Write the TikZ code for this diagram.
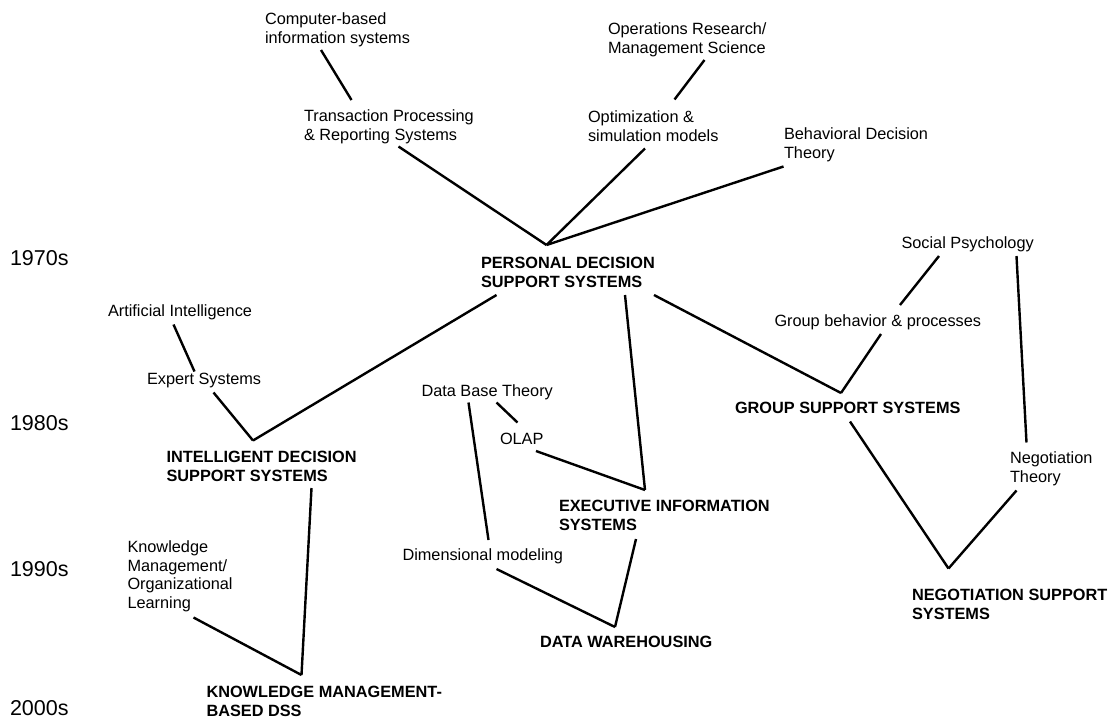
\documentclass[tikz,border=0pt]{standalone}
\usepackage{fontspec}
\setmainfont{Liberation Sans}
\begin{document}
\begin{tikzpicture}[x=1pt,y=-1pt,
  lbl/.style={anchor=north west,inner sep=0pt,outer sep=0pt,align=left,
    font=\fontsize{16.3}{18.7}\selectfont},
  sys/.style={lbl,font=\fontsize{16.3}{18.7}\selectfont\bfseries},
  era/.style={anchor=north west,inner sep=0pt,outer sep=0pt,
    font=\fontsize{21.5}{24}\selectfont},
  link/.style={draw,line width=2.4pt}]
\useasboundingbox (0,0) rectangle (1109,718);
% era labels
\node[era] (e70) at (10,250) {1970s};
\node[era] (e80) at (10,415) {1980s};
\node[era] (e90) at (10,561.5) {1990s};
\node[era] (e00) at (10,700) {2000s};
% text nodes
\node[lbl] (cbis) at (265,12.5) {Computer-based\\information systems};
\node[lbl] (tps) at (304,110) {Transaction Processing\\\& Reporting Systems};
\node[lbl] (orms) at (608,22.5) {Operations Research/\\Management Science};
\node[lbl] (opt) at (588,111) {Optimization \&\\simulation models};
\node[lbl] (bdt) at (784,128) {Behavioral Decision\\Theory};
\node[sys] (pdss) at (481,257) {PERSONAL DECISION\\SUPPORT SYSTEMS};
\node[lbl] (ai) at (108,305) {Artificial Intelligence};
\node[lbl] (es) at (147,373.5) {Expert Systems};
\node[sys] (idss) at (166.5,451.5) {INTELLIGENT DECISION\\SUPPORT SYSTEMS};
\node[lbl] (dbt) at (421.5,385) {Data Base Theory};
\node[lbl] (olap) at (500,433.5) {OLAP};
\node[sys] (eis) at (559,500.5) {EXECUTIVE INFORMATION\\SYSTEMS};
\node[lbl] (dim) at (402.5,549) {Dimensional modeling};
\node[sys] (dw) at (540,636.5) {DATA WAREHOUSING};
\node[sys] (gss) at (735,402.5) {GROUP SUPPORT SYSTEMS};
\node[lbl] (sp) at (901.5,236.5) {Social Psychology};
\node[lbl] (gbp) at (774.5,315) {Group behavior \& processes};
\node[lbl] (nt) at (1010,451.5) {Negotiation\\Theory};
\node[sys] (nss) at (912,589) {NEGOTIATION SUPPORT\\SYSTEMS};
\node[lbl] (kmol) at (127.5,540.5) {Knowledge\\Management/\\Organizational\\Learning};
\node[sys] (kmdss) at (206.5,686.5) {KNOWLEDGE MANAGEMENT-\\BASED DSS};
% connector end points
\coordinate (pdss-j) at (546.5,245);
\coordinate (idss-j) at (253,440.5);
\coordinate (eis-j) at (645,490);
\coordinate (dw-j) at (615,627);
\coordinate (gss-j) at (841,393);
\coordinate (nss-j) at (948.5,568.5);
\coordinate (km-j) at (301.5,675);
\coordinate (cbis-b) at (321,50);
\coordinate (tps-t) at (351.5,100);
\coordinate (tps-b) at (398.5,146.5);
\coordinate (orms-b) at (704.5,60);
\coordinate (opt-t) at (674.5,99.5);
\coordinate (opt-b) at (645,148.5);
\coordinate (bdt-b) at (783.5,166.5);
\coordinate (pdss-bl) at (496.5,295);
\coordinate (pdss-bm) at (625,295);
\coordinate (pdss-br) at (654,295);
\coordinate (ai-b) at (173.5,324.5);
\coordinate (es-t) at (194.5,371.5);
\coordinate (es-b) at (213.5,392.5);
\coordinate (idss-b) at (311.5,488);
\coordinate (dbt-b1) at (468.5,402.5);
\coordinate (dbt-b2) at (496.5,402.5);
\coordinate (olap-t) at (517.5,422.5);
\coordinate (olap-b) at (536,451);
\coordinate (dim-t) at (488.5,540);
\coordinate (dim-b) at (496.5,569);
\coordinate (eis-b) at (636,539);
\coordinate (sp-b1) at (939,256);
\coordinate (sp-b2) at (1016.5,256);
\coordinate (gbp-t) at (900,305);
\coordinate (gbp-b) at (881,334);
\coordinate (gss-b) at (850,421.5);
\coordinate (nt-t) at (1026.5,442.5);
\coordinate (nt-b) at (1016.5,490.5);
\coordinate (kmol-b) at (193.5,617.5);
% connectors
\draw[link] (cbis-b) -- (tps-t);
\draw[link] (tps-b) -- (pdss-j);
\draw[link] (orms-b) -- (opt-t);
\draw[link] (opt-b) -- (pdss-j);
\draw[link] (bdt-b) -- (pdss-j);
\draw[link] (pdss-bl) -- (idss-j);
\draw[link] (ai-b) -- (es-t);
\draw[link] (es-b) -- (idss-j);
\draw[link] (pdss-bm) -- (eis-j);
\draw[link] (olap-b) -- (eis-j);
\draw[link] (dbt-b2) -- (olap-t);
\draw[link] (dbt-b1) -- (dim-t);
\draw[link] (dim-b) -- (dw-j);
\draw[link] (eis-b) -- (dw-j);
\draw[link] (pdss-br) -- (gss-j);
\draw[link] (gbp-b) -- (gss-j);
\draw[link] (sp-b1) -- (gbp-t);
\draw[link] (sp-b2) -- (nt-t);
\draw[link] (gss-b) -- (nss-j);
\draw[link] (nt-b) -- (nss-j);
\draw[link] (idss-b) -- (km-j);
\draw[link] (kmol-b) -- (km-j);
\end{tikzpicture}
\end{document}
